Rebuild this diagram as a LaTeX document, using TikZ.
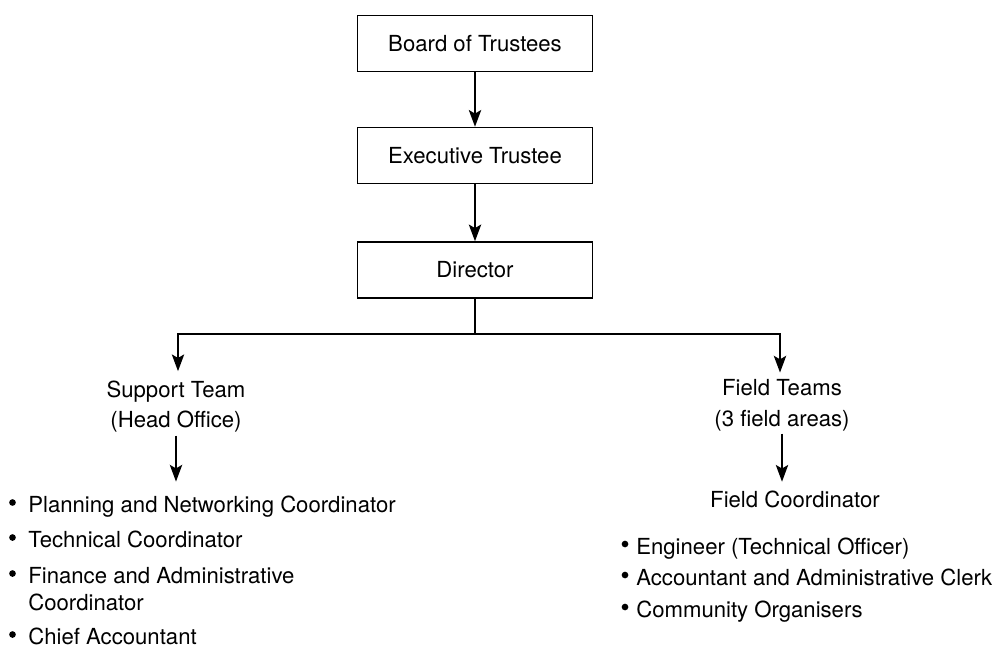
\documentclass[tikz,border=0pt]{standalone}
\usepackage{fontspec}
\setmainfont{TeX Gyre Heros}
\usetikzlibrary{arrows.meta,calc}
\begin{document}
\begin{tikzpicture}[x=0.02cm,y=-0.02cm,
  font=\fontsize{12.6}{15}\selectfont,
  post/.style={draw, line width=0.85pt, minimum width=4.7cm, minimum height=1.12cm, inner sep=0pt},
  caption/.style={anchor=base, inner sep=0pt},
  entry/.style={anchor=base west, inner sep=0pt},
  link/.style={line width=1.1pt},
  arr/.style={link, -{Stealth[length=9.5pt,width=7pt,inset=2pt]}}]
\useasboundingbox (0,0) rectangle (1000,647);

% top of the hierarchy
\node[post] (board) at (475,43.5) {Board of Trustees};
\node[post] (exec)  at (475,155.5) {Executive Trustee};
\node[post] (dir)   at (475,270) {Director};

% the two branches
\node[caption] (st1) at (176,397) {Support Team};
\node[caption] (st2) at (176,427) {(Head Office)};
\node[caption] (ft1) at (782,395) {Field Teams};
\node[caption] (ft2) at (782,426) {(3 field areas)};
\node[caption] (fc)  at (795,507) {Field Coordinator};

% head office staff
\node[entry] (pl)  at (28,512) {Planning and Networking Coordinator};
\node[entry] (tc)  at (28,547) {Technical Coordinator};
\node[entry] (fa)  at (28,583) {Finance and Administrative};
\node[entry] (fa2) at (28,610) {Coordinator};
\node[entry] (ca)  at (28,644) {Chief Accountant};

% field staff
\node[entry] (en) at (636,554) {Engineer (Technical Officer)};
\node[entry] (ac) at (636,585) {Accountant and Administrative Clerk};
\node[entry] (co) at (636,617) {Community Organisers};

% bullets
\foreach \n in {pl,tc,fa,ca}
  \fill ($(\n.base west)+(-15.5,-9.5)$) circle[radius=1.9pt];
\foreach \n in {en,ac,co}
  \fill ($(\n.base west)+(-11,-10)$) circle[radius=1.9pt];

% connectors
\draw[arr] (board) -- (exec);
\draw[arr] (exec) -- (dir);

\coordinate (jl) at (178,334);
\coordinate (jr) at (780,334);
\draw[link] (dir.south) -- (dir.south |- jl);
\draw[arr, shorten >=5.1pt] (dir.south |- jl) -- (jl) -- (jl |- st1.north);
\draw[arr, shorten >=3.4pt] (dir.south |- jr) -- (jr) -- (jr |- ft1.north);

\draw[arr, shorten <=2pt, shorten >=7.7pt] (st2.south) -- (st2.south |- pl.north);
\draw[arr, shorten <=1.4pt, shorten >=4.8pt] (ft2.south) -- (ft2.south |- fc.north);
\end{tikzpicture}
\end{document}
